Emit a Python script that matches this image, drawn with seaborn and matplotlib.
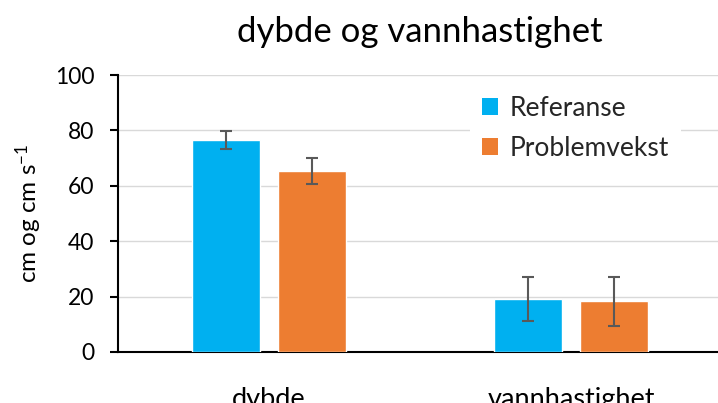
import matplotlib
matplotlib.use("Agg")
import matplotlib.pyplot as plt
import seaborn as sns
import pandas as pd
import numpy as np
from matplotlib.patches import Patch

categories = ["dybde", "vannhastighet"]
series = ["Referanse", "Problemvekst"]
referanse = [76.5, 19.2]
problemvekst = [65.2, 18.3]
referanse_err = [3.3, 8.0]
problemvekst_err = [4.7, 8.9]
colors = ["#00B0F0", "#ED7D31"]

sns.set_theme(style="white")
plt.rcParams["font.family"] = ["Lato", "DejaVu Sans"]
plt.rcParams["mathtext.fontset"] = "custom"
plt.rcParams["mathtext.rm"] = "Lato"
plt.rcParams["mathtext.it"] = "Lato"
plt.rcParams["mathtext.default"] = "regular"

df = pd.DataFrame({
    "kategori": categories * 2,
    "serie": [series[0]] * 2 + [series[1]] * 2,
    "verdi": referanse + problemvekst,
})

fig = plt.figure(figsize=(7.18, 4.03), dpi=100)
ax = fig.add_axes([118 / 718, 51 / 403, 604 / 718, 277 / 403])

sns.barplot(data=df, x="kategori", y="verdi", hue="serie", order=categories,
            hue_order=series, palette=colors, width=0.57, gap=0.21,
            saturation=1, errorbar=None, ax=ax, legend=False, zorder=3)

errs = {series[0]: referanse_err, series[1]: problemvekst_err}
vals = {series[0]: referanse, series[1]: problemvekst}
for container, s in zip(ax.containers, series):
    xs = [p.get_x() + p.get_width() / 2 for p in container.patches]
    ax.errorbar(xs, vals[s], yerr=errs[s], fmt="none", ecolor="#595959",
                elinewidth=1.5, capsize=4, capthick=1.5, zorder=4)

ax.set_xlim(-0.5, 1.5)
ax.set_ylim(0, 100)
ax.set_yticks(range(0, 101, 20))
ax.yaxis.grid(True, color="#d9d9d9", linewidth=1)
ax.set_axisbelow(True)
for s in ["top", "right"]:
    ax.spines[s].set_visible(False)
for s in ["left", "bottom"]:
    ax.spines[s].set_color("black")
    ax.spines[s].set_linewidth(1.5)
ax.tick_params(axis="y", which="both", left=True, length=6, width=1.5,
               color="black", labelsize=16.5, pad=11, labelcolor="black")
ax.tick_params(axis="x", length=0, labelsize=19.5, pad=25, labelcolor="black")
ax.set_xlabel("")
ax.set_ylabel("cm og cm s$^{-1}$", fontsize=17.5, color="black", labelpad=8)
fig.text(420 / 718, 1 - 42 / 403, "dybde og vannhastighet", fontsize=25,
         color="black", ha="center", va="baseline")

handles = [Patch(facecolor=c, edgecolor="none") for c in colors]
leg = fig.legend(handles, series, loc="upper left",
                 bbox_to_anchor=(457 / 718, 1 - 71 / 403), frameon=True,
                 fontsize=19, handlelength=0.6, handleheight=0.6,
                 handletextpad=0.45, labelspacing=0.55, borderpad=0.45)
leg.get_frame().set_facecolor("white")
leg.get_frame().set_edgecolor("none")
leg.get_frame().set_alpha(1)

fig.savefig("out.png", dpi=100)
